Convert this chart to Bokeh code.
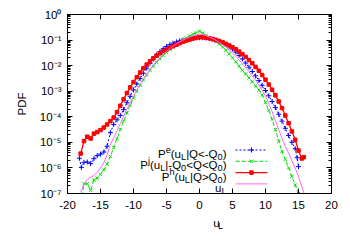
import numpy as np
from bokeh.plotting import figure
from bokeh.layouts import column
from bokeh.models import (FixedTicker, CustomJSTickFormatter, LinearAxis, LogAxis, Range1d)
from bokeh.core.properties import value
from bokeh.embed import file_html
from bokeh.resources import INLINE

# ---------------- data (log10 of the PDF) ----------------
ph_u = [-18, -17.5, -17, -16.5, -16, -15.5, -15, -14.5, -14, -13.5, -13, -12.5, -12, -11.5,
        -11, -10.5, -10, -9.5, -9, -8.5, -8, -7.5, -7, -6.5, -6, -5.5, -5, -4.5, -4, -3.5,
        -3, -2.5, -2, -1.5, -1, -0.5, 0, 0.5, 1, 1.5, 2, 2.5, 3, 3.5, 4, 4.5, 5, 5.5, 6,
        6.5, 7, 7.5, 8, 8.5, 9, 9.5, 10, 10.5, 11, 11.5, 12, 12.5, 13, 13.5, 14, 14.5, 15,
        15.5, 15.8]
ph_log10 = [-5.44, -4.95, -4.78, -4.85, -4.66, -4.60, -4.52, -4.42, -4.30, -4.17, -4.03,
            -3.82, -3.57, -3.32, -3.07, -2.85, -2.64, -2.45, -2.27, -2.10, -1.96, -1.83,
            -1.71, -1.61, -1.52, -1.44, -1.37, -1.30, -1.24, -1.18, -1.12, -1.07, -1.02,
            -0.98, -0.94, -0.91, -0.89, -0.89, -0.91, -0.93, -0.96, -1.00, -1.04, -1.09,
            -1.15, -1.21, -1.28, -1.36, -1.45, -1.55, -1.66, -1.78, -1.91, -2.05, -2.20,
            -2.37, -2.55, -2.74, -2.94, -3.16, -3.40, -3.66, -3.95, -4.25, -4.57, -4.90,
            -5.32, -5.63, -5.58]

pe_u = [-18.2, -17.9, -17.5, -17, -16.5, -16, -15.5, -15, -14.5, -14, -13.5, -13, -12.5,
        -12, -11.5, -11, -10.5, -10, -9.5, -9, -8.5, -8, -7.5, -7, -6.5, -6, -5.5, -5,
        -4.5, -4, -3.5, -3, -2.5, -2, -1.5, -1, -0.5, 0, 0.5, 1, 1.5, 2, 2.5, 3, 3.5, 4,
        4.5, 5, 5.5, 6, 6.5, 7, 7.5, 8, 8.5, 9, 9.5, 10, 10.5, 11, 11.5, 12, 12.5, 13,
        13.5, 14, 14.5, 14.8, 15.0]
pe_log10 = [-5.62, -5.98, -5.78, -5.77, -5.83, -5.64, -5.52, -5.46, -5.38, -5.15, -4.62,
            -4.30, -4.12, -3.95, -3.72, -3.45, -3.20, -2.95, -2.72, -2.50, -2.30, -2.10,
            -1.91, -1.74, -1.58, -1.45, -1.34, -1.25, -1.18, -1.12, -1.07, -1.03, -1.00,
            -0.98, -0.96, -0.94, -0.92, -0.91, -0.91, -0.92, -0.94, -0.97, -1.00, -1.04,
            -1.09, -1.17, -1.25, -1.35, -1.47, -1.60, -1.74, -1.90, -2.06, -2.23, -2.40,
            -2.58, -2.77, -2.97, -3.18, -3.40, -3.64, -3.90, -4.17, -4.45, -4.73, -5.00,
            -5.25, -5.60, -5.95]

pj_u = [-17.8, -17.5, -17, -16.5, -16, -15.5, -15, -14.5, -14, -13.5, -13, -12.5, -12,
        -11.5, -11, -10.5, -10, -9.5, -9, -8.5, -8, -7.5, -7, -6.5, -6, -5.5, -5, -4.5,
        -4, -3.5, -3, -2.5, -2, -1.5, -1, -0.5, 0, 0.5, 1, 1.5, 2, 2.5, 3, 3.5, 4, 4.5,
        5, 5.5, 6, 6.5, 7, 7.5, 8, 8.5, 9, 9.5, 10, 10.5, 11, 11.5, 12, 12.5, 13, 13.5,
        14, 14.5, 15, 15.2]
pj_log10 = [-7.10, -6.62, -6.62, -6.88, -6.47, -6.40, -6.25, -6.08, -5.85, -5.55, -5.20,
            -4.85, -4.50, -4.17, -3.85, -3.55, -3.27, -3.00, -2.77, -2.56, -2.36, -2.18,
            -2.02, -1.87, -1.73, -1.60, -1.48, -1.37, -1.27, -1.17, -1.08, -0.99, -0.91,
            -0.84, -0.77, -0.71, -0.65, -0.73, -0.82, -0.90, -0.98, -1.06, -1.15, -1.27,
            -1.40, -1.54, -1.69, -1.85, -2.02, -2.18, -2.33, -2.48, -2.63, -2.79, -2.95,
            -3.15, -3.45, -3.75, -4.10, -4.50, -4.95, -5.35, -5.67, -6.00, -6.33, -6.67,
            -7.00, -7.05]

ul_u = [-18, -17.5, -17, -16.5, -16, -15.5, -15, -14.5, -14, -13.5, -13, -12.5, -12,
        -11.5, -11, -10.5, -10, -9.5, -9, -8.5, -8, -7.5, -7, -6.5, -6, -5.5, -5, -4.5,
        -4, -3.5, -3, -2.5, -2, -1.5, -1, -0.5, 0, 0.5, 1, 1.5, 2, 2.5, 3, 3.5, 4, 4.5,
        5, 5.5, 6, 6.5, 7, 7.5, 8, 8.5, 9, 9.5, 10, 10.5, 11, 11.5, 12, 12.5, 13, 13.5,
        14, 14.5, 15, 15.5, 16]
ul_log10 = [-6.95, -6.62, -6.45, -6.36, -6.30, -6.17, -6.00, -5.80, -5.50, -5.08, -4.82,
            -4.55, -4.27, -3.98, -3.70, -3.44, -3.19, -2.95, -2.73, -2.52, -2.33, -2.15,
            -1.98, -1.83, -1.69, -1.56, -1.44, -1.33, -1.24, -1.15, -1.07, -1.00, -0.94,
            -0.88, -0.83, -0.79, -0.76, -0.78, -0.83, -0.88, -0.94, -1.01, -1.09, -1.18,
            -1.28, -1.39, -1.51, -1.64, -1.78, -1.93, -2.08, -2.24, -2.41, -2.58, -2.76,
            -2.96, -3.20, -3.48, -3.80, -4.14, -4.50, -4.85, -5.15, -5.42, -5.72, -6.00,
            -6.35, -6.72, -7.10]

x_ticks = [-20, -15, -10, -5, 0, 5, 10, 15, 20]
x_tick_labels = ["-20", "-15", "-10", "-5", "0", "5", "10", "15", "20"]
y_ticks = [1, 1e-1, 1e-2, 1e-3, 1e-4, 1e-5, 1e-6, 1e-7]
y_tick_labels = ["10\u2070", "10\u207b\u00b9", "10\u207b\u00b2", "10\u207b\u00b3",
                 "10\u207b\u2074", "10\u207b\u2075", "10\u207b\u2076", "10\u207b\u2077"]
y_label = "PDF"

# legend labels: (text, kind) pieces, kind = n (normal), sup, sub
legend_rows = [
    [("P", "n"), ("e", "sup"), ("(u", "n"), ("L", "sub"), ("|Q<-Q", "n"), ("0", "sub"), (")", "n")],
    [("P", "n"), ("j", "sup"), ("(u", "n"), ("L", "sub"), ("|-Q", "n"), ("0", "sub"),
     ("<Q<Q", "n"), ("0", "sub"), (")", "n")],
    [("P", "n"), ("h", "sup"), ("(u", "n"), ("L", "sub"), ("|Q>Q", "n"), ("0", "sub"), (")", "n")],
    [("u", "n"), ("L", "sub")],
]
x_label = [("u", "n"), ("L", "sub")]

# ---------------- styles ----------------
FONT = "Liberation Sans"
BLUE, GREEN, RED, PINK = "#0000ff", "#00e000", "#ff0000", "#ff66ff"

W, H = 350, 215          # main figure; the x-axis title goes in a strip below
STRIP_H = 30
BL, BR, BT, BB = 67, 19, 14, 22
FW, FH = W - BL - BR, H - BT - BB
XMIN, XMAX = -20, 20
YEXP_MIN, YEXP_MAX = -7, 0

p = figure(width=W, height=H, x_range=Range1d(XMIN, XMAX),
           y_range=Range1d(10.0 ** YEXP_MIN, 10.0 ** YEXP_MAX), y_axis_type="log",
           output_backend="svg", toolbar_location=None, title=None,
           min_border_left=BL, min_border_right=BR, min_border_top=BT, min_border_bottom=BB)
p.xgrid.visible = False
p.ygrid.visible = False
p.outline_line_color = "black"
p.outline_line_width = 1
p.background_fill_color = "white"
p.border_fill_color = "white"

minor_y = [k * 10.0 ** e for e in range(YEXP_MIN, YEXP_MAX) for k in range(2, 10)]
y_ticker = FixedTicker(ticks=y_ticks, minor_ticks=minor_y)
x_ticker = FixedTicker(ticks=x_ticks, minor_ticks=[])
y_fmt = CustomJSTickFormatter(args=dict(labels=y_tick_labels),
                              code="return labels[Math.round(-Math.log10(tick))];")
blank_fmt = CustomJSTickFormatter(code="return '';")


def style_axis(ax):
    ax.axis_line_color = "black"
    ax.major_tick_line_color = "black"
    ax.minor_tick_line_color = "black"
    ax.major_tick_in = 5
    ax.major_tick_out = 0
    ax.minor_tick_in = 3
    ax.minor_tick_out = 0
    ax.major_label_text_font = FONT
    ax.major_label_text_color = "black"
    ax.major_label_text_font_size = "11.5px"
    ax.major_label_standoff = 6


xa = p.xaxis[0]
xa.ticker = x_ticker
xa.major_label_overrides = dict(zip(x_ticks, x_tick_labels))
style_axis(xa)
xa.major_label_standoff = 7

ya = p.yaxis[0]
ya.ticker = y_ticker
ya.formatter = y_fmt
style_axis(ya)
ya.axis_label = y_label
ya.axis_label_text_font = FONT
ya.axis_label_text_font_size = "11.5px"
ya.axis_label_text_font_style = "normal"
ya.axis_label_text_color = "black"
ya.axis_label_standoff = 9

top = LinearAxis(ticker=FixedTicker(ticks=x_ticks, minor_ticks=[]), formatter=blank_fmt)
style_axis(top)
top.major_label_standoff = 0
p.add_layout(top, "above")
right = LogAxis(ticker=FixedTicker(ticks=y_ticks, minor_ticks=minor_y), formatter=blank_fmt)
style_axis(right)
right.major_label_standoff = 0
p.add_layout(right, "right")

# ---------------- series ----------------
series = [
    (pe_u, pe_log10, BLUE, "2 2", "cross", 5, 1.0),
    (pj_u, pj_log10, GREEN, "4 2", "x", 4.5, 1.0),
    (ph_u, ph_log10, RED, "solid", "square", 3.5, 1.3),
    (ul_u, ul_log10, PINK, "solid", None, 0, 1.0),
]
for u, lg, col, dash, mk, sz, lw in series:
    yv = 10.0 ** np.array(lg)
    p.line(u, yv, line_color=col, line_dash=dash, line_width=lw)
    if mk is not None:
        p.scatter(u, yv, marker=mk, size=sz, line_color=col, fill_color=col, line_width=1)

# ---------------- rich text helper ----------------
ARIAL = {'P': 667, 'e': 556, '(': 333, ')': 333, 'u': 556, 'L': 556, '|': 260, 'Q': 778,
         '<': 584, '>': 584, '-': 333, '0': 556, 'j': 222, 'h': 556}
SCALE = {'n': 1.0, 'sup': 0.8, 'sub': 0.8}


def text_w(s, size):
    return sum(ARIAL.get(c, 556) for c in s) * size / 1000.0


def fx_to_data(fx):
    return XMIN + fx / FW * (XMAX - XMIN)


def fy_to_data(fy):
    return 10.0 ** (YEXP_MIN + fy / FH * (YEXP_MAX - YEXP_MIN))


def layout_rich(pieces, x_anchor, y_center, size, align):
    """Return (x, baseline_y, text, font_size) for each piece, in px (y upward)."""
    shift = {'n': 0.0, 'sup': 0.40 * size, 'sub': -0.25 * size}
    total = sum(text_w(t, size * SCALE[k]) for t, k in pieces)
    x = x_anchor - total if align == "right" else x_anchor - total / 2.0
    base = y_center - 0.36 * size
    out = []
    for t, k in pieces:
        s = size * SCALE[k]
        out.append((x, base + shift[k], t, s))
        x += text_w(t, s)
    return out


# legend (positions in frame px, y from frame bottom)
LEG_TEXT_RIGHT = 159
LEG_ROW0 = 43.5
LEG_DY = 11.3
LEG_X0, LEG_X1 = 168, 200
LEG_FS = 11.5
for i, (pieces, (u, lg, col, dash, mk, sz, lw)) in enumerate(zip(legend_rows, series)):
    yc = LEG_ROW0 - i * LEG_DY
    for (x, y, t, s) in layout_rich(pieces, LEG_TEXT_RIGHT, yc, LEG_FS, "right"):
        p.text(x=[fx_to_data(x)], y=[fy_to_data(y)], text=[t], text_font=value(FONT),
               text_font_size=value(f"{s:.1f}px"), text_color="black",
               text_align="left", text_baseline="alphabetic")
    ly = fy_to_data(yc)
    p.line([fx_to_data(LEG_X0), fx_to_data(LEG_X1)], [ly, ly], line_color=col,
           line_dash=dash, line_width=lw)
    if mk is not None:
        p.scatter([fx_to_data((LEG_X0 + LEG_X1) / 2)], [ly], marker=mk, size=sz,
                  line_color=col, fill_color=col, line_width=1)

# ---------------- strip below with the x-axis title u_L ----------------
strip = figure(width=W, height=STRIP_H, x_range=Range1d(0, W), y_range=Range1d(0, STRIP_H),
               output_backend="svg", toolbar_location=None, title=None,
               x_axis_location=None, y_axis_location=None,
               min_border_left=0, min_border_right=0, min_border_top=0, min_border_bottom=0)
strip.outline_line_color = None
strip.xgrid.visible = False
strip.ygrid.visible = False
strip.background_fill_color = "white"
strip.border_fill_color = "white"
XLAB_CX = BL + FW / 2.0          # centred under the frame
XLAB_CY = STRIP_H - 3
for (x, y, t, s) in layout_rich(x_label, XLAB_CX, XLAB_CY, 11.5, "center"):
    strip.text(x=[x], y=[y], text=[t], text_font=value(FONT), text_font_size=value(f"{s:.1f}px"),
               text_color="black", text_align="left", text_baseline="alphabetic")

layout = column(p, strip, spacing=0)
open("out.html", "w").write(file_html(layout, INLINE))
